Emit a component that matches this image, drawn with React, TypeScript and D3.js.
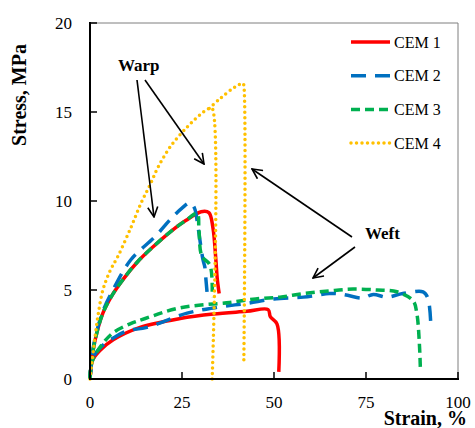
import * as d3 from 'd3'

// [strain %, stress MPa]
const cem1Warp = [[0, 0], [0.5, 1.1], [1.4, 2.2], [3.5, 3.7], [6, 4.7], [9, 5.6], [13, 6.6], [17, 7.4], [22, 8.3], [26, 8.9], [30.2, 9.4], [32.3, 9.35], [33.4, 8.5], [34.2, 6.7], [34.6, 5.6], [35.1, 4.8]]
const cem2Warp = [[0, 0], [0.5, 1.2], [1.4, 2.3], [3.5, 3.8], [6, 4.9], [11.1, 6.7], [17.7, 8.0], [22, 9.0], [25, 9.6], [27.2, 9.9], [28.4, 9.6], [29.3, 8.6], [30.7, 6.7], [31.2, 6.3], [31.5, 5.6], [31.8, 4.9]]
const cem3Warp = [[0, 0], [0.5, 1.1], [1.4, 2.2], [3.5, 3.7], [6, 4.7], [9, 5.6], [13, 6.6], [17, 7.4], [22, 8.3], [26, 8.9], [29.1, 9.3], [29.6, 8.4], [30.4, 6.9], [32.6, 6.4], [33.2, 4.6]]
const cem4Warp = [[0, 0], [0.5, 0.9], [1.4, 2.4], [2.2, 3.6], [3.5, 5.0], [5.5, 6.1], [7.6, 6.9], [11.1, 8.5], [13.9, 9.9], [16.3, 10.9], [18.5, 11.9], [22, 13.1], [26.6, 14.2], [30.2, 14.9], [32.4, 15.2], [33.2, 15.2], [33.2, 0]]

const cem1Weft = [[0, 0], [0.3, 0.7], [0.8, 1.1], [2.7, 1.6], [6.3, 2.2], [13.6, 2.9], [24.5, 3.4], [33.5, 3.65], [42.6, 3.8], [48.4, 3.9], [49, 3.5], [50.8, 3.1], [51.3, 0.4]]
const cem2Weft = [[0, 0], [0.3, 0.7], [0.8, 1.2], [3, 1.8], [6.3, 2.3], [10, 2.7], [15.5, 2.9], [26.4, 3.7], [35.3, 4.05], [42.6, 4.25], [50, 4.5], [58, 4.6], [65, 4.8], [67, 4.8], [70, 4.7], [74, 4.55], [77, 4.75], [80.6, 4.6], [85, 4.8], [90.5, 4.9], [91.8, 4.55], [92.6, 3.1]]
const cem3Weft = [[0, 0], [0.3, 0.8], [1.4, 1.35], [3.5, 2.0], [6.3, 2.6], [10.9, 3.1], [15, 3.4], [24.5, 4.0], [38, 4.3], [45, 4.5], [51.6, 4.6], [58, 4.8], [65, 4.95], [71.5, 5.05], [78, 5.0], [83.4, 4.9], [87.8, 4.4], [88.8, 3.7], [89.5, 2.0], [89.8, 0.4]]
const cem4Weft = [[32.4, 15.2], [35.6, 15.8], [39.4, 16.4], [41.6, 16.6], [41.8, 16.5], [41.8, 0.9]]

const seriesNames = ['CEM 1', 'CEM 2', 'CEM 3', 'CEM 4']
const xTicks = [0, 25, 50, 75, 100]
const yTicks = [0, 5, 10, 15, 20]

const styles = [
  { color: '#ff0000', dash: undefined, cap: 'butt' },
  { color: '#0070c0', dash: '15 9', cap: 'butt' },
  { color: '#00b050', dash: '9 5', cap: 'butt' },
  { color: '#ffc000', dash: '0 5.5', cap: 'round' },
]

const groups = [[cem1Warp, cem1Weft], [cem2Warp, cem2Weft], [cem3Warp, cem3Weft], [cem4Warp, cem4Weft]]

// [x1, y1, x2, y2] in pixels, annotation arrows
const arrows = [[137, 80, 154, 217], [145, 80, 204, 164], [352, 237, 252, 169], [355, 247, 313, 278]]

const serif = { fontFamily: "'Liberation Serif'" }
const serifBold = { fontFamily: "'Liberation Serif'", fontWeight: 'bold' as const }

export default function App() {
  const x = d3.scaleLinear().domain([0, 100]).range([90, 458])
  const y = d3.scaleLinear().domain([0, 20]).range([379, 23])
  const line = d3.line<number[]>().x(d => x(d[0])).y(d => y(d[1])).curve(d3.curveCatmullRom.alpha(0.5))

  return (
    <div style={{ position: 'absolute', left: 0, top: 0 }}>
      <svg width={475} height={428} style={{ display: 'block', background: '#fff' }}>
        <defs>
          <marker id="arr" viewBox="0 0 12 12" refX={11} refY={6} markerWidth={12} markerHeight={12}
            markerUnits="userSpaceOnUse" orient="auto">
            <path d="M1,1 L11,6 L1,11" fill="none" stroke="#000" strokeWidth={1.6} />
          </marker>
        </defs>

        {/* frame top / right */}
        <path d={`M${x(0)},${y(20)}H${x(100)}V${y(0)}`} fill="none" stroke="#7f7f7f" strokeWidth={1} />

        {groups.map((g, i) => g.map((data, j) => (
          <path key={`${i}-${j}`} d={line(data) ?? ''} fill="none" stroke={styles[i].color} strokeWidth={3.5}
            strokeDasharray={styles[i].dash} strokeLinecap={styles[i].cap as any} strokeLinejoin="round" />
        )))}

        {/* axes */}
        <line x1={x(0)} x2={x(0)} y1={y(20) - 1} y2={y(0) + 1} stroke="#000" strokeWidth={2} />
        <line x1={x(0) - 1} x2={x(100) + 1} y1={y(0)} y2={y(0)} stroke="#000" strokeWidth={2} />

        {yTicks.map(t => (
          <g key={`y${t}`}>
            <line x1={x(0)} x2={x(0) + 7} y1={y(t)} y2={y(t)} stroke="#000" strokeWidth={1.5} />
            <text x={72} y={y(t) + 6} textAnchor="end" style={{ ...serif, fontSize: 17 }}>{t}</text>
          </g>
        ))}
        {xTicks.map(t => (
          <g key={`x${t}`}>
            <line x1={x(t)} x2={x(t)} y1={y(0)} y2={y(0) - 7} stroke="#000" strokeWidth={1.5} />
            <text x={x(t)} y={408} textAnchor="middle" style={{ ...serif, fontSize: 17 }}>{t}</text>
          </g>
        ))}

        <text transform="translate(26,95) rotate(-90)" textAnchor="middle" style={{ ...serifBold, fontSize: 20 }}>Stress, MPa</text>
        <text x={467} y={425} textAnchor="end" style={{ ...serifBold, fontSize: 20 }}>Strain, %</text>

        {/* legend */}
        {seriesNames.map((name, i) => {
          const ly = 42 + i * 33.7
          return (
            <g key={name}>
              <line x1={351} x2={390} y1={ly} y2={ly} stroke={styles[i].color} strokeWidth={3.5}
                strokeDasharray={styles[i].dash} strokeLinecap={styles[i].cap as any} />
              <text x={394} y={ly + 5.5} style={{ ...serif, fontSize: 16 }}>{name}</text>
            </g>
          )
        })}

        {/* annotations */}
        <text x={118} y={71} style={{ ...serifBold, fontSize: 17 }}>Warp</text>
        <text x={365} y={239} style={{ ...serifBold, fontSize: 17 }}>Weft</text>
        {arrows.map((a, i) => (
          <line key={`a${i}`} x1={a[0]} y1={a[1]} x2={a[2]} y2={a[3]} stroke="#000" strokeWidth={1.6} markerEnd="url(#arr)" />
        ))}
      </svg>
    </div>
  )
}
